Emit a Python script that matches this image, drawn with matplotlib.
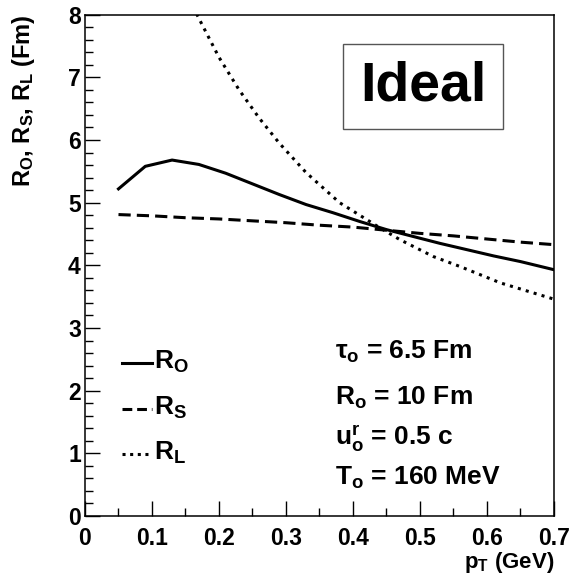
import matplotlib
matplotlib.use("Agg")
import matplotlib.pyplot as plt
from matplotlib.lines import Line2D
from matplotlib.patches import Rectangle
from matplotlib.ticker import MultipleLocator

plt.rcParams['font.family'] = ['Liberation Sans', 'DejaVu Sans']
plt.rcParams['font.weight'] = 'bold'
plt.rcParams['mathtext.fontset'] = 'custom'
plt.rcParams['mathtext.rm'] = 'Liberation Sans:bold'
plt.rcParams['mathtext.it'] = 'Liberation Sans:bold'
plt.rcParams['mathtext.bf'] = 'Liberation Sans:bold'
plt.rcParams['mathtext.sf'] = 'Liberation Sans:bold'

# R_O (solid)
pt_out = [0.05, 0.09, 0.13, 0.17, 0.21, 0.25, 0.29, 0.33, 0.37, 0.41, 0.45, 0.49, 0.53, 0.57, 0.61, 0.65, 0.70]
r_out = [5.22, 5.58, 5.68, 5.61, 5.47, 5.30, 5.13, 4.97, 4.84, 4.70, 4.57, 4.46, 4.35, 4.25, 4.15, 4.06, 3.93]

# R_S (dashed)
pt_side = [0.05, 0.10, 0.15, 0.20, 0.25, 0.30, 0.35, 0.40, 0.45, 0.50, 0.55, 0.60, 0.65, 0.70]
r_side = [4.81, 4.79, 4.76, 4.74, 4.71, 4.68, 4.64, 4.61, 4.56, 4.51, 4.47, 4.42, 4.37, 4.33]

# R_L (dotted)
pt_long = [0.15, 0.17, 0.20, 0.23, 0.26, 0.29, 0.33, 0.38, 0.44, 0.47, 0.52, 0.56, 0.62, 0.70]
r_long = [8.38, 7.94, 7.32, 6.80, 6.35, 5.95, 5.48, 5.00, 4.60, 4.41, 4.14, 3.98, 3.72, 3.46]

params = [r"$\tau_{\rm o}$ = 6.5 Fm",
          r"R$_{\rm o}$ = 10 Fm",
          r"u$^{\rm r}_{\rm o}$ = 0.5 c",
          r"T$_{\rm o}$ = 160 MeV"]

lw = 2.2
dash = (0, (4.0, 2.0))
dot = (0, (1.0, 1.7))

fig = plt.figure(figsize=(5.7, 5.78), dpi=100)
ax = fig.add_axes([0.1491, 0.1073, 0.8228, 0.8673])

ax.plot(pt_out, r_out, color='black', lw=lw, ls='-')
ax.plot(pt_side, r_side, color='black', lw=lw, ls=dash)
ax.plot(pt_long, r_long, color='black', lw=lw, ls=dot)

ax.set_xlim(0, 0.7)
ax.set_ylim(0, 8)
ax.xaxis.set_major_locator(MultipleLocator(0.1))
ax.xaxis.set_minor_locator(MultipleLocator(0.05))
ax.yaxis.set_major_locator(MultipleLocator(1))
ax.yaxis.set_minor_locator(MultipleLocator(0.2))
ax.set_xticks([0, 0.1, 0.2, 0.3, 0.4, 0.5, 0.6, 0.7])
ax.set_xticklabels(['0', '0.1', '0.2', '0.3', '0.4', '0.5', '0.6', '0.7'])
ax.tick_params(which='both', direction='in', top=False, right=False, width=1.0)
ax.tick_params(which='major', length=11, labelsize=16.5)
ax.tick_params(which='minor', length=5.5)
ax.tick_params(axis='x', pad=8)
ax.tick_params(axis='y', pad=3)
for s in ax.spines.values():
    s.set_linewidth(1.1)

ax.set_xlabel(r"p$_{\rm T}$ (GeV)", fontsize=16, fontweight='bold', loc='right', labelpad=0)
ax.set_ylabel(r"R$_{\rm O}$, R$_{\rm S}$, R$_{\rm L}$ (Fm)", fontsize=17, fontweight='bold', loc='top', labelpad=22)

# legend drawn by hand, ROOT style
leg_y = [0.306, 0.213, 0.123]
leg_lab = [r"R$_{\rm O}$", r"R$_{\rm S}$", r"R$_{\rm L}$"]
leg_ls = ['-', (0, (3.2, 1.6)), (0, (1.0, 1.5))]
for yy, lab, ls in zip(leg_y, leg_lab, leg_ls):
    ax.add_line(Line2D([0.078, 0.142], [yy, yy], transform=ax.transAxes,
                       color='black', lw=lw, ls=ls))
    ax.text(0.147, yy + 0.002, lab, transform=ax.transAxes, fontsize=19,
            fontweight='bold', va='center', ha='left')

for yy, t in zip([0.314, 0.221, 0.141, 0.0615], params):
    ax.text(0.533, yy, t, transform=ax.transAxes, fontsize=19,
            fontweight='bold', va='baseline', ha='left')

# "Ideal" box
fig.add_artist(Rectangle((0.602, 0.7768), 0.280, 0.1471, transform=fig.transFigure,
                         facecolor='white', edgecolor='#555555', lw=1.0))
fig.text(0.742, 0.851, "Ideal", fontsize=40, fontweight='bold', ha='center', va='center')

fig.savefig("out.png", dpi=100)
